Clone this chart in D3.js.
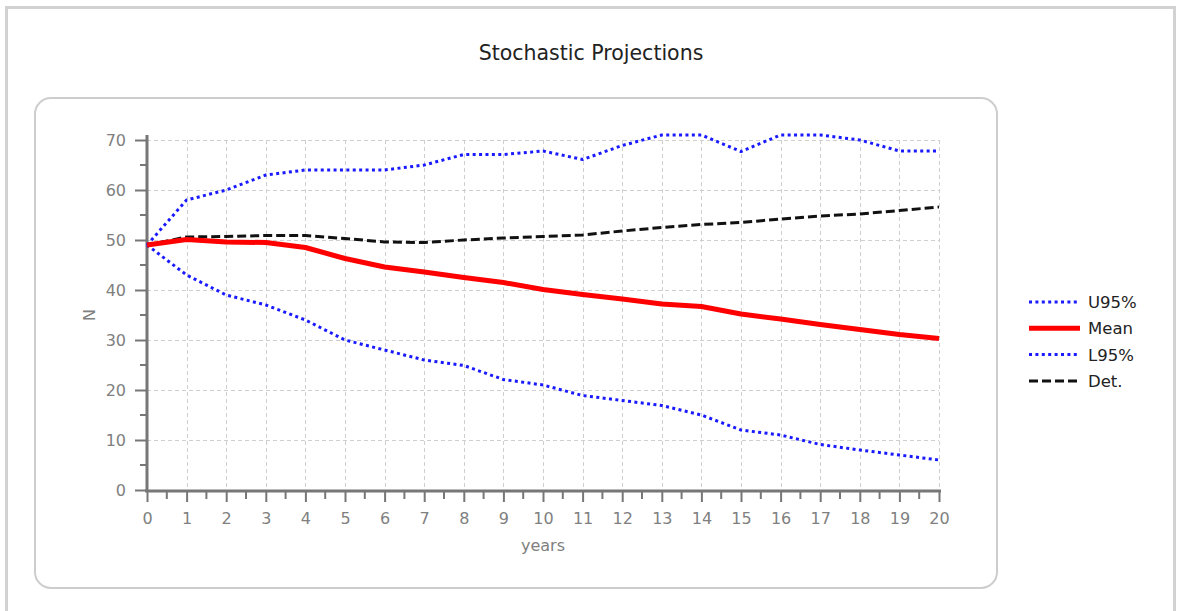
<!DOCTYPE html>
<html>
<head>
<meta charset="utf-8">
<script src="https://cdn.jsdelivr.net/npm/d3@7"></script>
<style>
  html, body { margin: 0; padding: 0; background: #fff; }
  svg { display: block; font-family: "DejaVu Sans", Verdana, sans-serif; }
</style>
</head>
<body>
<svg id="chart" width="1178" height="611"></svg>
<script>
// Projection years and series values
const years = [0,1,2,3,4,5,6,7,8,9,10,11,12,13,14,15,16,17,18,19,20];
const upper95 = [49,58,60,63,64,64,64,65,67.1,67.1,67.8,66.1,68.9,71,71,67.7,71,71,70,67.8,67.8];
const meanN   = [49,50.1,49.6,49.5,48.5,46.3,44.6,43.6,42.5,41.5,40.1,39.1,38.2,37.2,36.7,35.2,34.2,33.1,32.1,31.1,30.3];
const lower95 = [49,43,39,37,34,30,28,26,24.9,22.1,21,18.9,17.9,16.9,15,12,11,9.1,8,7,6];
const detN    = [49,50.6,50.7,50.9,50.9,50.3,49.6,49.5,50,50.4,50.7,51,51.8,52.5,53.1,53.5,54.2,54.8,55.2,55.9,56.6];

const yTicks = [0,10,20,30,40,50,60,70];
const yMinorTicks = [5,15,25,35,45,55,65];
const xMinorTicks = d3.range(0.5, 20, 1);

const seriesNames = ["U95%", "Mean", "L95%", "Det."];
const seriesData = [upper95, meanN, lower95, detN];

const styles = [
  { color: "#1a1aff", width: 3, dash: "3 3.4" },
  { color: "#ff0000", width: 5, dash: null },
  { color: "#1a1aff", width: 3, dash: "3 3.4" },
  { color: "#111111", width: 3, dash: "9 4" }
];

const svg = d3.select("#chart");

// outer frame (bottom edge runs past the view)
svg.append("rect")
  .attr("x", 6.5).attr("y", 7.5).attr("width", 1168).attr("height", 640)
  .attr("fill", "none").attr("stroke", "#d2d2d2").attr("stroke-width", 3);

// rounded plot panel
svg.append("rect")
  .attr("x", 35).attr("y", 98).attr("width", 962).attr("height", 490)
  .attr("rx", 16).attr("ry", 16)
  .attr("fill", "#fff").attr("stroke", "#cdcdcd").attr("stroke-width", 2);

// title
svg.append("text")
  .attr("x", 591).attr("y", 60)
  .attr("text-anchor", "middle")
  .attr("font-size", 20.5).attr("fill", "#222")
  .text("Stochastic Projections");

const x = d3.scaleLinear().domain([0, 20]).range([147, 939]);
const y = d3.scaleLinear().domain([0, 70]).range([490, 140]);

// grid
const grid = svg.append("g").attr("stroke", "#cfcfcf").attr("stroke-width", 1)
  .attr("stroke-dasharray", "4 3");
grid.selectAll("line.v").data(years.slice(1)).join("line")
  .attr("x1", d => Math.round(x(d)) + 0.5).attr("x2", d => Math.round(x(d)) + 0.5)
  .attr("y1", y(70)).attr("y2", y(0));
grid.selectAll("line.h").data(yTicks.slice(1)).join("line")
  .attr("x1", x(0)).attr("x2", x(20))
  .attr("y1", d => Math.round(y(d)) + 0.5).attr("y2", d => Math.round(y(d)) + 0.5);

const axisColor = "#777";
const labelColor = "#808080";

// y axis
const yAxis = d3.axisLeft(y).tickValues(yTicks).tickSize(12).tickPadding(9);
const yg = svg.append("g").attr("transform", `translate(${x(0)},0)`).call(yAxis);
yg.select(".domain").remove();
yg.selectAll(".tick line").attr("stroke", axisColor).attr("stroke-width", 2);
yg.selectAll(".tick text").attr("fill", labelColor).attr("font-size", 16)
  .attr("font-family", "DejaVu Sans, sans-serif");
svg.append("g").selectAll("line").data(yMinorTicks).join("line")
  .attr("x1", x(0) - 7).attr("x2", x(0))
  .attr("y1", d => y(d)).attr("y2", d => y(d))
  .attr("stroke", axisColor).attr("stroke-width", 2);
svg.append("line")
  .attr("x1", x(0)).attr("x2", x(0)).attr("y1", 135).attr("y2", y(0) + 2)
  .attr("stroke", axisColor).attr("stroke-width", 3);

// x axis
const xAxis = d3.axisBottom(x).tickValues(years).tickSize(12).tickPadding(11)
  .tickFormat(d3.format("d"));
const xg = svg.append("g").attr("transform", `translate(0,${y(0)})`).call(xAxis);
xg.select(".domain").remove();
xg.selectAll(".tick line").attr("stroke", axisColor).attr("stroke-width", 2);
xg.selectAll(".tick text").attr("fill", labelColor).attr("font-size", 16)
  .attr("font-family", "DejaVu Sans, sans-serif");
svg.append("g").selectAll("line").data(xMinorTicks).join("line")
  .attr("x1", d => x(d)).attr("x2", d => x(d))
  .attr("y1", y(0)).attr("y2", y(0) + 9)
  .attr("stroke", axisColor).attr("stroke-width", 2);
svg.append("line")
  .attr("x1", x(0) - 2).attr("x2", x(20) + 2).attr("y1", y(0) + 1).attr("y2", y(0) + 1)
  .attr("stroke", axisColor).attr("stroke-width", 3);

// axis titles
svg.append("text")
  .attr("x", (x(0) + x(20)) / 2).attr("y", 551)
  .attr("text-anchor", "middle").attr("font-size", 16).attr("fill", labelColor)
  .text("years");
svg.append("text")
  .attr("transform", `translate(95,${(y(0) + y(70)) / 2}) rotate(-90)`)
  .attr("text-anchor", "middle").attr("font-size", 16).attr("fill", labelColor)
  .text("N");

// series lines
const line = d3.line().x((d, i) => x(years[i])).y(d => y(d));
const lineOrder = [3, 0, 2, 1];
lineOrder.forEach(k => {
  svg.append("path")
    .datum(seriesData[k])
    .attr("d", line)
    .attr("fill", "none")
    .attr("stroke", styles[k].color)
    .attr("stroke-width", styles[k].width)
    .attr("stroke-dasharray", styles[k].dash)
    .attr("stroke-linejoin", "round");
});

// legend
const legend = svg.append("g");
seriesNames.forEach((name, i) => {
  const ly = 302 + i * 26.3;
  legend.append("line")
    .attr("x1", 1029).attr("x2", 1080).attr("y1", ly).attr("y2", ly)
    .attr("stroke", styles[i].color)
    .attr("stroke-width", styles[i].width)
    .attr("stroke-dasharray", styles[i].dash);
  legend.append("text")
    .attr("x", 1088).attr("y", ly).attr("dy", "0.36em")
    .attr("font-size", 16.5).attr("fill", "#222")
    .text(name);
});
</script>
</body>
</html>
